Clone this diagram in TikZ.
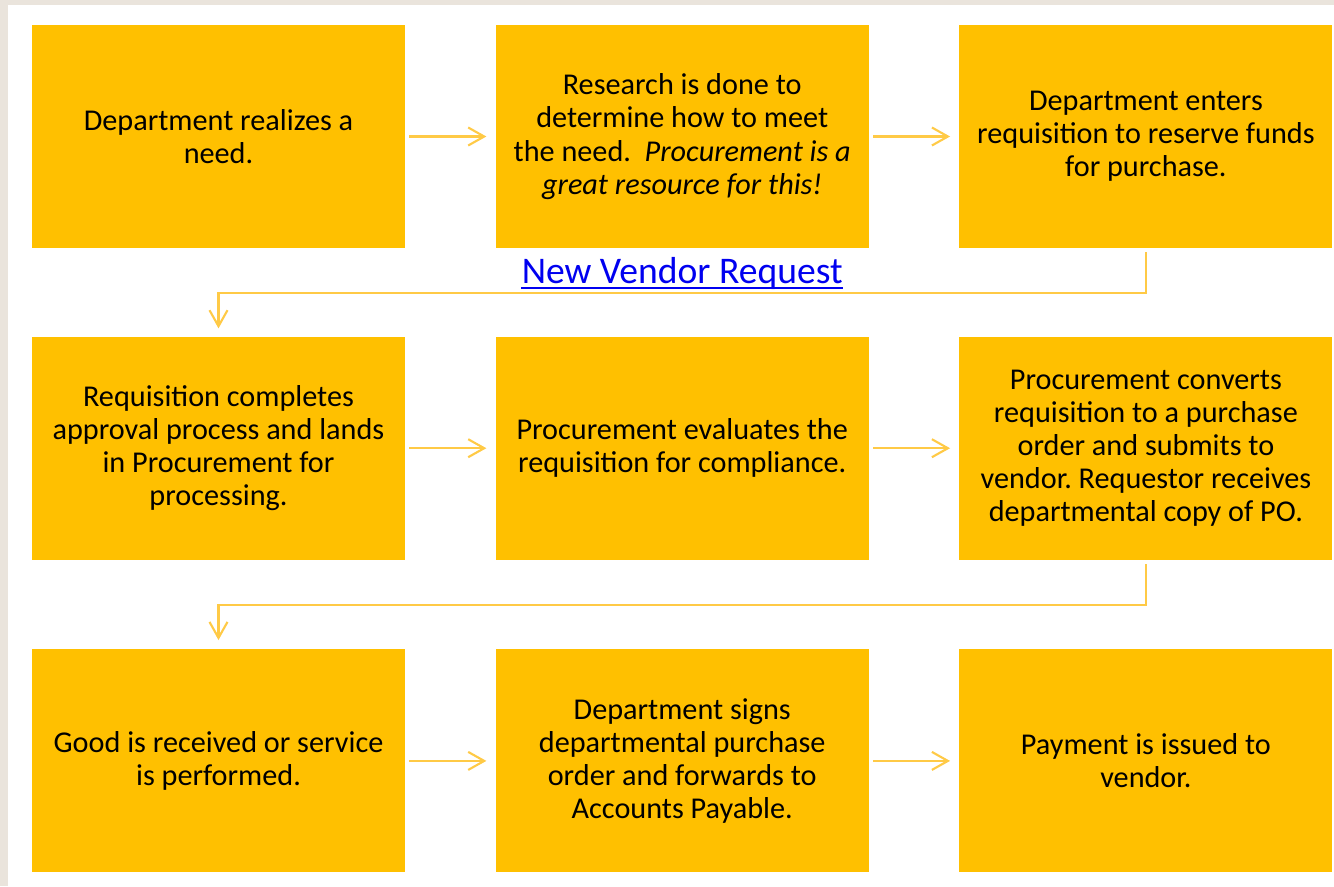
\documentclass[tikz,border=0pt]{standalone}
\usepackage{fontspec}
\setmainfont{Carlito}
\usetikzlibrary{positioning,arrows.meta}
\usepackage{xcolor}
\definecolor{boxgold}{RGB}{255,192,0}
\definecolor{flowgold}{RGB}{255,202,70}
\definecolor{linkblue}{RGB}{0,0,240}
\definecolor{paper}{RGB}{234,228,220}

\tikzset{
    stepbox/.style={fill=boxgold, minimum width=7.46cm, minimum height=4.46cm,
        align=center, font=\fontsize{17.2}{18.9}\selectfont\frenchspacing, inner sep=0pt},
    flow/.style={draw=flowgold, line width=1.2pt,
        -{Straight Barb[length=0.32cm,width=0.36cm]}},
}

\begin{document}
\begin{tikzpicture}

    % Page edge and white sheet. Picture is 1334px, 1px = 0.02cm.
    \fill[paper] (0,0) rectangle (26.68,-17.72);
    \fill[white] (0.16,-0.1) rectangle (26.68,-17.72);

    % First row
    \node[stepbox] (need) at (4.37,-2.73) {Department realizes a\\ need.};
    \node[stepbox, right=1.8cm of need] (research)
        {Research is done to\\ determine how to meet\\
         the need.\ \ \textit{Procurement is a}\\ \textit{great resource for this!}};
    \node[stepbox, right=1.8cm of research] (requisition)
        {Department enters\\ requisition to reserve funds\\ for purchase.};

    % link under the research box
    \node[below=0.18cm of research, text=linkblue, inner sep=0pt,
        font=\fontsize{21.4}{24}\selectfont] (vendorlink) {New Vendor Request};
    \draw[linkblue, line width=0.9pt] ([yshift=-2.4pt]vendorlink.base west)
        -- ([yshift=-2.4pt]vendorlink.base east);

    % Second row
    \node[stepbox, below=1.76cm of need] (approval)
        {Requisition completes\\ approval process and lands\\ in Procurement for\\ processing.};
    \node[stepbox, right=1.8cm of approval] (evaluate)
        {Procurement evaluates the\\ requisition for compliance.};
    \node[stepbox, right=1.8cm of evaluate] (convert)
        {Procurement converts\\ requisition to a purchase\\ order and submits to\\
         vendor. Requestor receives\\ departmental copy of PO.};

    % Third row
    \node[stepbox, below=1.78cm of approval] (receive)
        {Good is received or service\\ is performed.};
    \node[stepbox, right=1.8cm of receive] (sign)
        {Department signs\\ departmental purchase\\ order and forwards to\\ Accounts Payable.};
    \node[stepbox, right=1.8cm of sign] (payment)
        {Payment is issued to\\ vendor.};

    % arrows along each row
    \foreach \a/\b in {need/research, research/requisition, approval/evaluate,
        evaluate/convert, receive/sign, sign/payment}
        \draw[flow, shorten <=0.08cm, shorten >=0.18cm] (\a) -- (\b);

    % wrap round to the next row
    \draw[flow, shorten <=0.08cm, shorten >=0.16cm]
        (requisition.south) -- ++(0,-0.9) -| (approval.north);
    \draw[flow, shorten <=0.08cm, shorten >=0.18cm]
        (convert.south) -- ++(0,-0.9) -| (receive.north);

\end{tikzpicture}
\end{document}
